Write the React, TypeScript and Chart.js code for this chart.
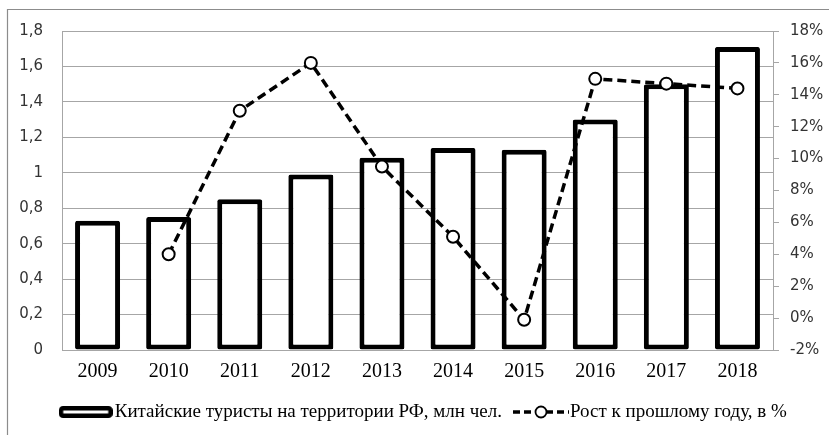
import React, { useEffect, useRef } from 'react';
import { Chart, registerables } from 'chart.js';

Chart.register(...registerables);

const years = ['2009', '2010', '2011', '2012', '2013', '2014', '2015', '2016', '2017', '2018'];
const touristsMln = [0.73, 0.75, 0.85, 0.99, 1.085, 1.14, 1.13, 1.3, 1.5, 1.71];
const growthPct: (number | null)[] = [null, 4.0, 13.0, 16.0, 9.5, 5.1, -0.1, 15.0, 14.7, 14.4];
const barLabel = 'Китайские туристы на территории РФ, млн чел.';
const lineLabel = 'Рост к прошлому году, в %';

const GRID = '#a6a6a6';
const LEGEND_SHIFT = 8;

function makeBarIcon(): HTMLCanvasElement {
  const c = document.createElement('canvas');
  c.width = 54;
  c.height = 12;
  const ctx = c.getContext('2d')!;
  ctx.fillStyle = '#fff';
  ctx.strokeStyle = '#000';
  ctx.lineWidth = 4.5;
  ctx.beginPath();
  (ctx as any).roundRect(2.25, 2.25, 49.5, 7.5, 2);
  ctx.fill();
  ctx.stroke();
  return c;
}

function makeLineIcon(): HTMLCanvasElement {
  const c = document.createElement('canvas');
  c.width = 56;
  c.height = 14;
  const ctx = c.getContext('2d')!;
  ctx.strokeStyle = '#000';
  ctx.lineWidth = 3.5;
  ctx.setLineDash([7, 4]);
  ctx.beginPath();
  ctx.moveTo(0, 7);
  ctx.lineTo(56, 7);
  ctx.stroke();
  ctx.setLineDash([]);
  ctx.fillStyle = '#fff';
  ctx.lineWidth = 1.8;
  ctx.beginPath();
  ctx.arc(28, 7, 5.5, 0, Math.PI * 2);
  ctx.fill();
  ctx.stroke();
  return c;
}

const framePlugin = {
  id: 'frame',
  afterLayout(chart: any) {
    if (chart.legend) {
      chart.legend.left += LEGEND_SHIFT;
      chart.legend.right += LEGEND_SHIFT;
    }
  },
  beforeDraw(chart: any) {
    const { ctx, width, height } = chart;
    ctx.save();
    ctx.fillStyle = '#fff';
    ctx.fillRect(0, 0, width, height);
    ctx.strokeStyle = '#8c8c8c';
    ctx.lineWidth = 1.2;
    ctx.beginPath();
    ctx.moveTo(7.5, height);
    ctx.lineTo(7.5, 9.5);
    ctx.lineTo(width, 9.5);
    ctx.stroke();
    ctx.restore();
  },
};

export default function App() {
  const ref = useRef<HTMLCanvasElement | null>(null);

  useEffect(() => {
    if (!ref.current) return;
    const barIcon = makeBarIcon();
    const lineIcon = makeLineIcon();
    const chart = new Chart(ref.current, {
      type: 'bar',
      data: {
        labels: years,
        datasets: [
          {
            type: 'bar',
            label: barLabel,
            data: touristsMln,
            yAxisID: 'y',
            backgroundColor: '#ffffff',
            borderColor: '#000000',
            borderWidth: 5,
            borderRadius: 2,
            borderSkipped: false,
            barPercentage: 0.633,
            categoryPercentage: 1.0,
            order: 2,
          } as any,
          {
            type: 'line',
            label: lineLabel,
            data: growthPct,
            yAxisID: 'y1',
            borderColor: '#000000',
            borderWidth: 3.5,
            borderDash: [9, 5],
            pointRadius: 6,
            pointBackgroundColor: '#ffffff',
            pointBorderColor: '#000000',
            pointBorderWidth: 2,
            tension: 0,
            spanGaps: false,
            order: 1,
          } as any,
        ],
      },
      options: {
        responsive: false,
        animation: false,
        layout: { padding: { left: 8, right: 0, top: 31, bottom: 3.5 } },
        plugins: {
          tooltip: { enabled: false },
          legend: {
            position: 'bottom',
            labels: {
              usePointStyle: true,
              pointStyleWidth: 39,
              padding: 19.5,
              color: '#000',
              font: { family: 'Liberation Serif', size: 19 },
              sort: (a: any, b: any) => a.datasetIndex - b.datasetIndex,
              generateLabels: (ch: any) => {
                const items = Chart.defaults.plugins.legend.labels.generateLabels(ch);
                items.forEach((it: any) => {
                  it.pointStyle = it.datasetIndex === 0 ? barIcon : lineIcon;
                });
                return items;
              },
            },
          },
        },
        scales: {
          x: {
            grid: { display: false, drawTicks: false },
            border: { display: true, color: GRID },
            ticks: {
              color: '#000',
              padding: 10,
              font: { family: 'Liberation Serif', size: 20 },
            },
            afterFit: (s: any) => {
              s.height = 33;
            },
          },
          y: {
            position: 'left',
            min: 0,
            max: 1.8,
            grid: { color: GRID, drawTicks: false, lineWidth: 1 },
            border: { display: true, color: GRID },
            ticks: {
              stepSize: 0.2,
              padding: 19,
              color: '#333',
              font: { family: 'DejaVu Sans', size: 15 },
              callback: (v: any) => String(Math.round(Number(v) * 10) / 10).replace('.', ','),
            },
            afterFit: (s: any) => {
              s.width = 54;
            },
          },
          y1: {
            position: 'right',
            min: -2,
            max: 18,
            grid: { drawOnChartArea: false, color: GRID, tickLength: 6 },
            border: { display: true, color: GRID },
            ticks: {
              stepSize: 2,
              padding: 11,
              color: '#333',
              font: { family: 'DejaVu Sans', size: 15 },
              callback: (v: any) => Math.round(Number(v)) + '%',
            },
            afterFit: (s: any) => {
              s.width = 56;
            },
          },
        },
      } as any,
      plugins: [framePlugin],
    });
    return () => chart.destroy();
  }, []);

  return (
    <div style={{ position: 'fixed', left: 0, top: 0, width: 829, height: 435 }}>
      <canvas ref={ref} width={829} height={435} style={{ display: 'block' }} />
    </div>
  );
}
